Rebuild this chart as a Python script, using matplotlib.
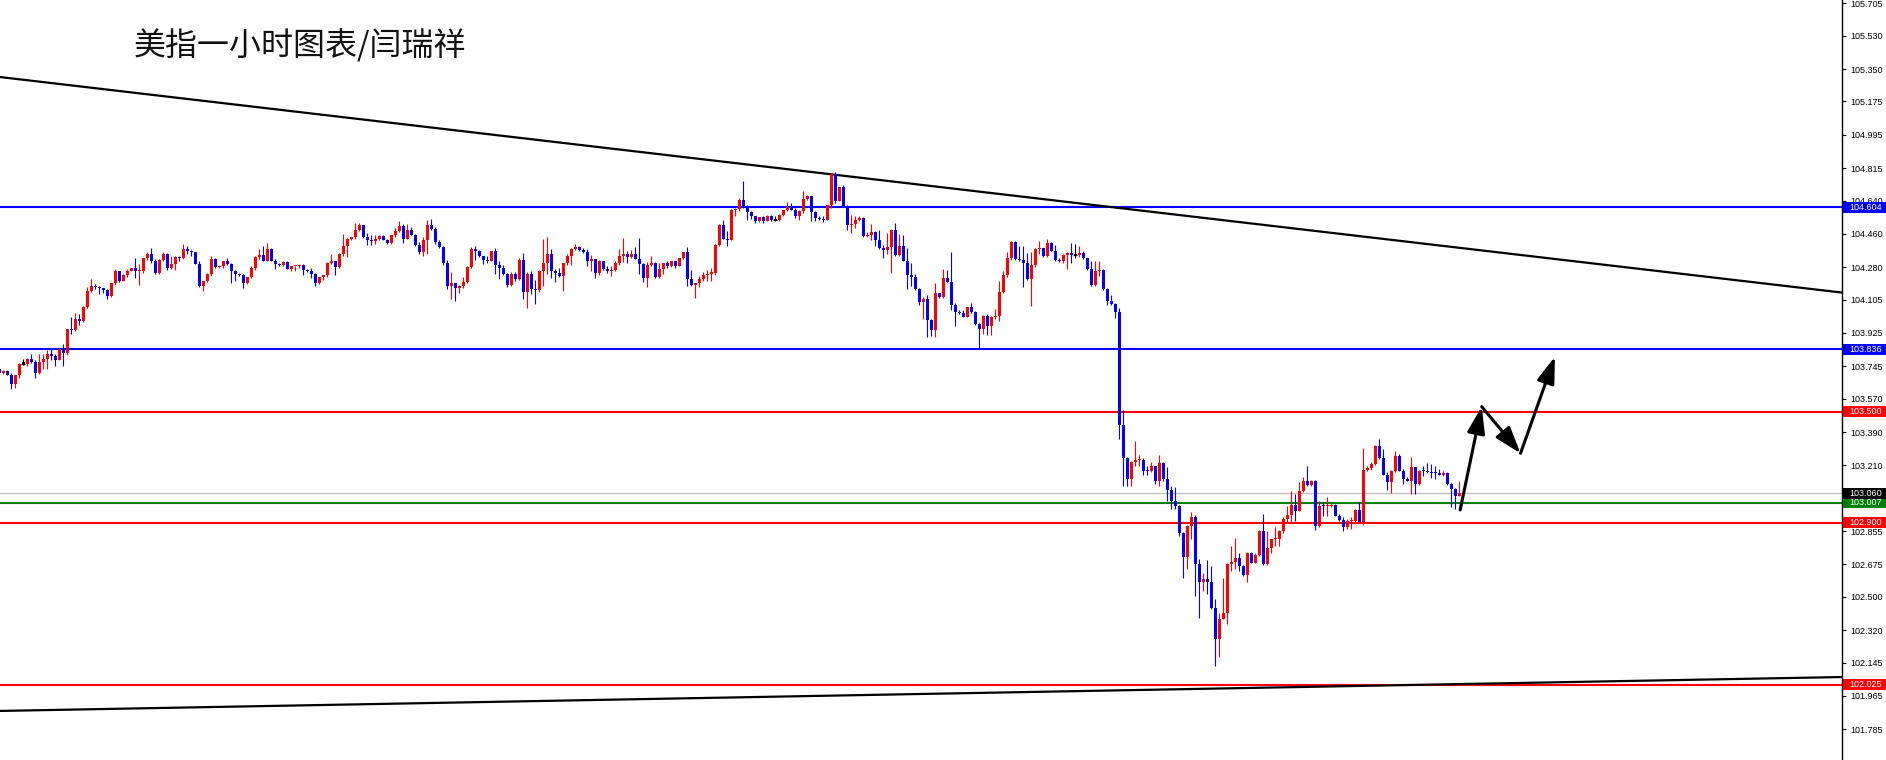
import numpy as np
import matplotlib.pyplot as plt
from matplotlib.patches import Rectangle

plt.rcParams['font.family'] = ['Noto Sans CJK SC', 'DejaVu Sans']

title = "美指一小时图表/闫瑞祥"

# hourly candles (open of each bar = previous close)
first_open = 103.733
closes = [
    103.711, 103.722, 103.700, 103.651, 103.696, 103.760, 103.760, 103.787, 103.769, 103.711,
    103.769, 103.783, 103.814, 103.801, 103.778, 103.836, 103.819, 103.944, 103.942, 103.998,
    103.989, 104.067, 104.154, 104.179, 104.175, 104.166, 104.157, 104.125, 104.193, 104.257,
    104.206, 104.238, 104.262, 104.275, 104.257, 104.259, 104.329, 104.350, 104.314, 104.248,
    104.320, 104.350, 104.278, 104.296, 104.336, 104.329, 104.378, 104.369, 104.360, 104.300,
    104.179, 104.204, 104.244, 104.323, 104.280, 104.289, 104.311, 104.298, 104.260, 104.244,
    104.238, 104.197, 104.226, 104.275, 104.334, 104.347, 104.316, 104.378, 104.314, 104.296,
    104.293, 104.307, 104.273, 104.284, 104.285, 104.293, 104.266, 104.257, 104.242, 104.197,
    104.226, 104.237, 104.305, 104.311, 104.282, 104.354, 104.397, 104.434, 104.441, 104.482,
    104.506, 104.441, 104.428, 104.423, 104.434, 104.448, 104.428, 104.410, 104.452, 104.473,
    104.500, 104.434, 104.482, 104.455, 104.401, 104.361, 104.428, 104.506, 104.486, 104.416,
    104.387, 104.302, 104.179, 104.193, 104.166, 104.179, 104.202, 104.280, 104.378, 104.365,
    104.338, 104.320, 104.314, 104.365, 104.293, 104.275, 104.242, 104.184, 104.242, 104.217,
    104.320, 104.145, 104.242, 104.163, 104.157, 104.260, 104.302, 104.350, 104.260, 104.248,
    104.233, 104.302, 104.341, 104.379, 104.388, 104.374, 104.361, 104.314, 104.323, 104.248,
    104.314, 104.271, 104.260, 104.267, 104.302, 104.341, 104.352, 104.334, 104.350, 104.325,
    104.296, 104.220, 104.293, 104.302, 104.226, 104.271, 104.302, 104.284, 104.311, 104.289,
    104.329, 104.360, 104.217, 104.184, 104.193, 104.215, 104.238, 104.246, 104.248, 104.401,
    104.506, 104.434, 104.425, 104.591, 104.594, 104.645, 104.603, 104.576, 104.555, 104.528,
    104.549, 104.531, 104.558, 104.537, 104.537, 104.560, 104.587, 104.607, 104.591, 104.558,
    104.585, 104.650, 104.663, 104.576, 104.546, 104.540, 104.537, 104.614, 104.784, 104.640,
    104.712, 104.609, 104.506, 104.513, 104.537, 104.546, 104.446, 104.452, 104.468, 104.428,
    104.383, 104.374, 104.388, 104.482, 104.347, 104.392, 104.316, 104.238, 104.229, 104.163,
    104.094, 104.108, 103.995, 103.940, 104.139, 104.117, 104.220, 104.202, 104.076, 104.036,
    104.031, 104.013, 104.063, 104.036, 103.973, 103.944, 104.016, 103.962, 104.013, 104.016,
    104.148, 104.238, 104.329, 104.416, 104.323, 104.318, 104.302, 104.217, 104.293, 104.378,
    104.385, 104.338, 104.410, 104.369, 104.320, 104.314, 104.347, 104.356, 104.347, 104.347,
    104.356, 104.329, 104.271, 104.184, 104.257, 104.266, 104.163, 104.098, 104.080, 104.040,
    103.429, 103.248, 103.136, 103.227, 103.239, 103.241, 103.182, 103.180, 103.209, 103.127,
    103.223, 103.136, 103.079, 103.019, 102.988, 102.847, 102.715, 102.883, 102.929, 102.676,
    102.580, 102.594, 102.580, 102.441, 102.275, 102.381, 102.414, 102.679, 102.690, 102.710,
    102.667, 102.616, 102.739, 102.685, 102.724, 102.856, 102.676, 102.766, 102.811, 102.815,
    102.856, 102.923, 102.941, 102.995, 102.965, 103.073, 103.127, 103.104, 103.127, 102.883,
    102.992, 102.988, 102.992, 102.997, 102.938, 102.914, 102.878, 102.907, 102.911, 102.970,
    102.905, 103.187, 103.194, 103.218, 103.317, 103.248, 103.160, 103.122, 103.182, 103.263,
    103.182, 103.136, 103.127, 103.200, 103.109, 103.182, 103.178, 103.173, 103.169, 103.167,
    103.160, 103.169, 103.109, 103.082, 103.046, 103.060,
]
highs = [
    103.736, 103.725, 103.727, 103.709, 103.700, 103.763, 103.787, 103.790, 103.809, 103.780,
    103.814, 103.814, 103.832, 103.837, 103.812, 103.839, 103.864, 103.948, 104.013, 104.031,
    104.025, 104.070, 104.175, 104.215, 104.190, 104.178, 104.170, 104.163, 104.197, 104.269,
    104.260, 104.242, 104.269, 104.278, 104.329, 104.296, 104.332, 104.361, 104.383, 104.323,
    104.323, 104.360, 104.355, 104.338, 104.343, 104.338, 104.405, 104.392, 104.374, 104.363,
    104.311, 104.208, 104.248, 104.341, 104.332, 104.293, 104.314, 104.332, 104.305, 104.267,
    104.251, 104.246, 104.229, 104.284, 104.338, 104.379, 104.397, 104.410, 104.386, 104.323,
    104.305, 104.311, 104.311, 104.287, 104.289, 104.296, 104.296, 104.273, 104.278, 104.251,
    104.229, 104.240, 104.309, 104.354, 104.311, 104.358, 104.459, 104.437, 104.444, 104.519,
    104.519, 104.509, 104.464, 104.455, 104.452, 104.455, 104.452, 104.435, 104.455, 104.491,
    104.528, 104.513, 104.513, 104.495, 104.462, 104.414, 104.441, 104.537, 104.542, 104.495,
    104.426, 104.392, 104.318, 104.253, 104.197, 104.184, 104.229, 104.284, 104.389, 104.397,
    104.372, 104.341, 104.338, 104.369, 104.383, 104.314, 104.293, 104.251, 104.253, 104.253,
    104.329, 104.356, 104.253, 104.257, 104.211, 104.264, 104.434, 104.441, 104.378, 104.269,
    104.278, 104.305, 104.350, 104.386, 104.405, 104.392, 104.386, 104.376, 104.347, 104.327,
    104.318, 104.314, 104.284, 104.284, 104.314, 104.378, 104.437, 104.369, 104.372, 104.388,
    104.437, 104.305, 104.307, 104.343, 104.307, 104.302, 104.305, 104.314, 104.314, 104.311,
    104.332, 104.363, 104.388, 104.266, 104.197, 104.233, 104.253, 104.266, 104.275, 104.405,
    104.513, 104.537, 104.473, 104.594, 104.600, 104.654, 104.744, 104.618, 104.585, 104.558,
    104.553, 104.555, 104.564, 104.564, 104.558, 104.567, 104.591, 104.632, 104.627, 104.600,
    104.589, 104.694, 104.672, 104.667, 104.582, 104.558, 104.556, 104.618, 104.788, 104.793,
    104.715, 104.726, 104.618, 104.564, 104.555, 104.555, 104.549, 104.471, 104.513, 104.477,
    104.482, 104.401, 104.464, 104.486, 104.519, 104.459, 104.452, 104.383, 104.302, 104.242,
    104.170, 104.121, 104.130, 103.998, 104.193, 104.143, 104.271, 104.266, 104.361, 104.089,
    104.047, 104.047, 104.067, 104.085, 104.043, 103.980, 104.020, 104.025, 104.016, 104.052,
    104.208, 104.257, 104.361, 104.419, 104.419, 104.397, 104.397, 104.356, 104.361, 104.383,
    104.423, 104.383, 104.434, 104.416, 104.401, 104.329, 104.350, 104.361, 104.410, 104.405,
    104.392, 104.365, 104.332, 104.316, 104.316, 104.311, 104.269, 104.170, 104.130, 104.089,
    104.058, 103.507, 103.257, 103.236, 103.344, 103.267, 103.248, 103.209, 103.227, 103.209,
    103.267, 103.227, 103.200, 103.100, 103.091, 102.995, 102.851, 102.887, 102.956, 102.941,
    102.703, 102.631, 102.697, 102.667, 102.486, 102.414, 102.603, 102.685, 102.775, 102.820,
    102.735, 102.670, 102.743, 102.743, 102.739, 102.860, 102.947, 102.856, 102.815, 102.875,
    102.860, 102.929, 102.992, 103.070, 103.055, 103.122, 103.149, 103.209, 103.131, 103.131,
    103.019, 103.006, 103.037, 103.006, 103.001, 102.947, 102.932, 102.920, 102.929, 102.974,
    103.014, 103.303, 103.209, 103.227, 103.321, 103.353, 103.299, 103.176, 103.185, 103.285,
    103.272, 103.191, 103.149, 103.254, 103.203, 103.185, 103.209, 103.221, 103.218, 103.209,
    103.191, 103.182, 103.173, 103.116, 103.089, 103.127,
]
lows = [
    103.707, 103.704, 103.696, 103.621, 103.628, 103.684, 103.751, 103.747, 103.765, 103.682,
    103.704, 103.733, 103.733, 103.778, 103.747, 103.778, 103.745, 103.805, 103.917, 103.933,
    103.967, 103.982, 104.058, 104.145, 104.163, 104.136, 104.139, 104.108, 104.121, 104.184,
    104.202, 104.203, 104.229, 104.257, 104.220, 104.184, 104.250, 104.320, 104.302, 104.244,
    104.244, 104.311, 104.266, 104.271, 104.266, 104.314, 104.322, 104.350, 104.343, 104.296,
    104.175, 104.152, 104.199, 104.235, 104.276, 104.275, 104.276, 104.294, 104.193, 104.206,
    104.235, 104.170, 104.192, 104.220, 104.267, 104.325, 104.312, 104.312, 104.311, 104.271,
    104.289, 104.289, 104.269, 104.257, 104.260, 104.276, 104.238, 104.253, 104.220, 104.181,
    104.190, 104.211, 104.226, 104.298, 104.238, 104.278, 104.338, 104.336, 104.425, 104.430,
    104.473, 104.437, 104.401, 104.401, 104.405, 104.425, 104.425, 104.406, 104.406, 104.443,
    104.470, 104.410, 104.434, 104.452, 104.397, 104.350, 104.343, 104.350, 104.482, 104.405,
    104.383, 104.293, 104.163, 104.108, 104.098, 104.139, 104.170, 104.195, 104.275, 104.320,
    104.334, 104.300, 104.302, 104.311, 104.244, 104.217, 104.238, 104.172, 104.181, 104.208,
    104.211, 104.108, 104.061, 104.134, 104.080, 104.148, 104.181, 104.242, 104.220, 104.202,
    104.229, 104.152, 104.294, 104.293, 104.371, 104.369, 104.358, 104.289, 104.260, 104.224,
    104.238, 104.267, 104.248, 104.233, 104.257, 104.293, 104.307, 104.305, 104.329, 104.322,
    104.242, 104.202, 104.172, 104.285, 104.222, 104.222, 104.242, 104.278, 104.280, 104.275,
    104.289, 104.322, 104.181, 104.181, 104.112, 104.175, 104.208, 104.208, 104.208, 104.238,
    104.392, 104.430, 104.396, 104.425, 104.558, 104.582, 104.600, 104.537, 104.542, 104.519,
    104.524, 104.517, 104.527, 104.531, 104.531, 104.528, 104.555, 104.582, 104.587, 104.546,
    104.537, 104.573, 104.641, 104.531, 104.531, 104.537, 104.524, 104.533, 104.600, 104.627,
    104.638, 104.605, 104.482, 104.464, 104.491, 104.531, 104.441, 104.442, 104.428, 104.397,
    104.379, 104.329, 104.350, 104.248, 104.343, 104.343, 104.312, 104.163, 104.181, 104.159,
    104.076, 104.000, 103.904, 103.908, 103.904, 104.114, 104.114, 104.199, 104.049, 103.964,
    104.027, 104.009, 104.009, 104.032, 103.969, 103.845, 103.917, 103.913, 103.913, 104.000,
    103.991, 104.141, 104.226, 104.320, 104.320, 104.312, 104.172, 104.213, 104.070, 104.280,
    104.350, 104.334, 104.334, 104.365, 104.316, 104.307, 104.302, 104.271, 104.302, 104.332,
    104.334, 104.325, 104.267, 104.181, 104.181, 104.235, 104.159, 104.076, 104.076, 104.004,
    103.353, 103.097, 103.097, 103.100, 103.209, 103.209, 103.158, 103.158, 103.173, 103.109,
    103.100, 103.127, 103.019, 102.977, 102.974, 102.829, 102.603, 102.649, 102.815, 102.504,
    102.387, 102.531, 102.513, 102.437, 102.125, 102.175, 102.378, 102.351, 102.640, 102.652,
    102.640, 102.613, 102.580, 102.681, 102.681, 102.721, 102.672, 102.672, 102.735, 102.775,
    102.775, 102.847, 102.898, 102.905, 102.910, 102.961, 103.064, 103.100, 103.097, 102.862,
    102.876, 102.938, 102.938, 102.983, 102.934, 102.911, 102.856, 102.869, 102.869, 102.905,
    102.902, 102.887, 103.178, 103.187, 103.211, 103.245, 103.156, 103.079, 103.059, 103.176,
    103.178, 103.109, 103.124, 103.055, 103.055, 103.106, 103.155, 103.169, 103.140, 103.136,
    103.156, 103.155, 103.106, 102.983, 102.974, 103.042,
]

# horizontal support / resistance levels
level_prices = [104.604, 103.836, 103.500, 103.007, 102.900, 102.025]
level_colors = ["#0000ff", "#0000ff", "#ff0000", "#008000", "#ff0000", "#ff0000"]
last_price = 103.060

# trend lines: (bar index, price) end points
upper_trend_x = [0.17, 460.7]
upper_trend_y = [105.307, 104.143]
lower_trend_x = [0.17, 460.7]
lower_trend_y = [101.884, 102.067]

# projected zig-zag path
path_x = [365.2, 370.6, 380.3, 388.9]
path_y = [102.969, 103.527, 103.275, 103.797]

y_ticks = [105.705, 105.530, 105.350, 105.175, 104.995, 104.815, 104.640, 104.460,
           104.280, 104.105, 103.925, 103.745, 103.570, 103.390, 103.210, 103.030,
           102.855, 102.675, 102.500, 102.320, 102.145, 101.965, 101.785]


def draw_candles(ax):
    c = np.array(closes)
    o = np.r_[first_open, c[:-1]]
    h = np.array(highs)
    l = np.array(lows)
    x = np.arange(len(c))
    col = np.where(c > o, "#ff0000", np.where(c < o, "#0000ff", "#000000"))
    ax.vlines(x, l, h, colors=col, lw=0.8, zorder=3)
    body = np.maximum(np.abs(c - o), 0.006)
    ax.bar(x, body, bottom=np.minimum(o, c), width=0.72, color=col,
           linewidth=0, zorder=3)
    flat = c == o
    ax.hlines(c[flat], x[flat] - 0.5, x[flat] + 0.5, colors="#000000", lw=0.9, zorder=4)


def main():
    fig = plt.figure(figsize=(18.86, 7.6), dpi=100)
    ax = fig.add_axes([0, 0, 1842 / 1886, 1])
    ax.set_xlim(0.1675, 460.67)
    ax.set_ylim(101.619, 105.723)

    for p, colr in zip(level_prices, level_colors):
        ax.axhline(p, color=colr, lw=1.5, zorder=2)
    ax.axhline(last_price, color="#c0c0c0", lw=1.0, zorder=1)

    ax.plot(upper_trend_x, upper_trend_y, color="black", lw=1.6, zorder=2)
    ax.plot(lower_trend_x, lower_trend_y, color="black", lw=1.6, zorder=2)

    draw_candles(ax)

    # projection arrows
    for i in range(len(path_x) - 1):
        ax.annotate("", xy=(path_x[i + 1], path_y[i + 1]), xytext=(path_x[i], path_y[i]),
                    arrowprops=dict(arrowstyle="-|>,head_length=0.9,head_width=0.3",
                                    color="black", lw=2.2,
                                    mutation_scale=18, shrinkA=0, shrinkB=0),
                    zorder=6)

    # right price scale
    for side in ["left", "top", "bottom"]:
        ax.spines[side].set_visible(False)
    ax.spines["right"].set_linewidth(1.0)
    ax.set_xticks([])
    ax.yaxis.tick_right()
    ax.set_yticks(y_ticks)
    ax.set_yticklabels([f"{t:.3f}" for t in y_ticks], fontsize=6.5,
                       fontfamily="Liberation Sans")
    ax.tick_params(axis="y", direction="out", length=3, width=0.8, pad=3, colors="black")

    # coloured price tags on the scale
    tags = list(zip(level_prices, level_colors)) + [(last_price, "#000000")]
    tr = ax.get_yaxis_transform()
    tag_h = 11 / 185.2
    for p, colr in tags:
        ax.add_patch(Rectangle((1.0005, p - tag_h / 2), 0.024, tag_h, transform=tr,
                               facecolor=colr, edgecolor="none", clip_on=False, zorder=8))
        ax.text(1.0038, p, f"{p:.3f}", transform=tr, ha="left", va="center",
                color="white", fontsize=6.5, fontfamily="Liberation Sans",
                clip_on=False, zorder=9)

    fig.text(134 / 1886, 1 - 46 / 760, title, fontsize=23, va="center", ha="left",
             color="#111111")

    fig.savefig("out.png", dpi=100)


if __name__ == "__main__":
    main()
